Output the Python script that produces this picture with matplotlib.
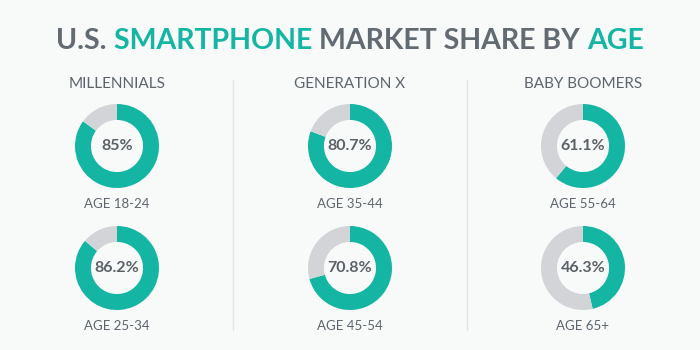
import matplotlib.pyplot as plt

# data
groups = ['MILLENNIALS', 'GENERATION X', 'BABY BOOMERS']
ages = [['AGE 18-24', 'AGE 25-34'], ['AGE 35-44', 'AGE 45-54'], ['AGE 55-64', 'AGE 65+']]
shares = [[85.0, 86.2], [80.7, 70.8], [61.1, 46.3]]
share_labels = [['85%', '86.2%'], ['80.7%', '70.8%'], ['61.1%', '46.3%']]
title_parts = [('U.S. ', 'gray'), ('SMARTPHONE ', 'teal'), ('MARKET SHARE BY ', 'gray'), ('AGE', 'teal')]

TEAL = '#15b5a3'
GREY = '#d2d4d7'
TXT = '#5d656c'
BG = '#f8f9f9'

plt.rcParams['font.family'] = ['Lato', 'DejaVu Sans']

W, H = 700, 350
fig = plt.figure(figsize=(7, 3.5), dpi=100, facecolor=BG)
base = fig.add_axes([0, 0, 1, 1])
base.set_xlim(0, W)
base.set_ylim(H, 0)
base.axis('off')

# title in pieces so the colours can change
renderer = fig.canvas.get_renderer()
pieces = []
for txt, col in title_parts:
    t = base.text(0, 41, txt, fontsize=20.5, fontweight='bold', va='center', ha='left',
                  color=TEAL if col == 'teal' else '#626a72')
    pieces.append(t)
widths = [p.get_window_extent(renderer).width for p in pieces]
x = (W - sum(widths)) / 2
for p, w in zip(pieces, widths):
    p.set_x(x)
    x += w

col_x = [117, 350, 583]
row_y = [146, 268]
r = 42

for i, g in enumerate(groups):
    base.text(col_x[i], 84, g, ha='center', va='center', fontsize=11, color=TXT)
    for j in range(2):
        cx, cy = col_x[i], row_y[j]
        ax = fig.add_axes([(cx - r) / W, 1 - (cy + r) / H, 2 * r / W, 2 * r / H])
        v = shares[i][j]
        ax.pie([v, 100 - v], colors=[TEAL, GREY], startangle=90, counterclock=False,
               wedgeprops=dict(width=0.38, edgecolor='none'))
        ax.set_xlim(-1, 1)
        ax.set_ylim(-1, 1)
        ax.set_aspect('equal')
        ax.text(0, 0, share_labels[i][j], ha='center', va='center', fontsize=11.5,
                fontweight='bold', color='#5a6167')
        base.text(cx, cy + 58, ages[i][j], ha='center', va='center', fontsize=9.5, color=TXT)

for sx in [233, 467]:
    base.plot([sx, sx], [80, 330], color='#e3e5e7', lw=1)

fig.savefig('out.png', dpi=100, facecolor=BG)
